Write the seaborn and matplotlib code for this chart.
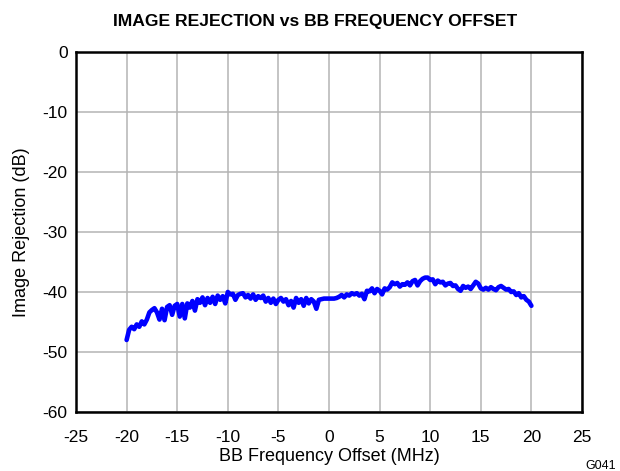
import matplotlib
matplotlib.use("Agg")
import matplotlib.pyplot as plt
import seaborn as sns
import pandas as pd
import numpy as np

# BB frequency offset (MHz), 0.25 MHz steps
freq_offset = list(np.round(np.arange(-20.0, 20.0001, 0.25), 2))

# Measured image rejection (dB)
image_rejection = [
    -48.0, -46.3, -45.8, -46.2, -45.4, -45.8, -44.9, -45.4,
    -44.6, -43.4, -43.0, -42.7, -43.4, -44.6, -42.8, -44.7,
    -42.5, -42.2, -43.8, -42.3, -42.0, -44.1, -42.0, -44.4,
    -41.9, -42.6, -41.5, -43.1, -41.2, -41.8, -40.9, -42.2,
    -41.0, -41.8, -40.8, -42.0, -40.6, -41.3, -40.7, -41.9,
    -40.0, -40.4, -40.3, -41.3, -40.5, -40.3, -40.2, -40.9,
    -40.5, -41.1, -40.4, -41.3, -40.7, -41.0, -40.6, -41.6,
    -41.0, -41.8, -41.1, -42.0, -41.3, -41.0, -41.6, -41.2,
    -42.2, -41.5, -42.6, -41.0, -41.8, -41.2, -42.3, -41.0,
    -41.9, -41.2, -41.6, -42.8, -41.3, -41.2, -41.1, -41.1,
    -41.1, -41.1, -41.1, -41.0, -40.8, -40.5, -40.9, -40.4,
    -40.6, -40.2, -40.4, -40.2, -40.6, -40.3, -41.2, -39.8,
    -39.9, -39.4, -40.2, -39.5, -39.8, -40.4, -39.4, -39.6,
    -39.2, -38.4, -38.7, -38.5, -39.1, -38.7, -38.8, -38.4,
    -38.9, -38.2, -38.0, -38.9, -38.2, -37.8, -37.6, -37.6,
    -38.0, -37.9, -38.7, -38.1, -38.4, -38.3, -38.9, -38.6,
    -38.5, -39.0, -38.9, -39.5, -39.8, -39.0, -39.3, -39.1,
    -39.5, -38.9, -38.3, -38.6, -39.4, -39.6, -39.3, -39.6,
    -39.2, -39.5, -39.7, -39.2, -39.0, -39.3, -39.6, -39.5,
    -40.0, -39.9, -40.5, -40.2, -40.9, -40.7, -41.3, -41.6,
    -42.3,
]

x_ticks = [-25, -20, -15, -10, -5, 0, 5, 10, 15, 20, 25]
y_ticks = [0, -10, -20, -30, -40, -50, -60]

title = "IMAGE REJECTION vs BB FREQUENCY OFFSET"
x_label = "BB Frequency Offset (MHz)"
y_label = "Image Rejection (dB)"
figure_id = "G041"

df = pd.DataFrame({"freq": freq_offset, "ir": image_rejection})

sns.set_style("white")
plt.rcParams["font.family"] = ["Liberation Sans", "DejaVu Sans"]
plt.rcParams["text.color"] = "black"
plt.rcParams["axes.labelcolor"] = "black"

fig = plt.figure(figsize=(6.2, 4.71), dpi=100)
ax = fig.add_axes([0.1226, 0.1253, 0.9387 - 0.1226, 0.8896 - 0.1253])

sns.lineplot(data=df, x="freq", y="ir", ax=ax, color="#0000ff",
             linewidth=3.3, solid_joinstyle="round", solid_capstyle="round")

ax.set_xlim(-25, 25)
ax.set_ylim(-60, 0)
ax.set_xticks(x_ticks)
ax.set_yticks(y_ticks)
ax.set_xticklabels([str(t) for t in x_ticks], fontsize=12.5)
ax.set_yticklabels([str(t) for t in y_ticks], fontsize=12.5)
ax.tick_params(axis="x", length=0, pad=13, colors="black")
ax.tick_params(axis="y", length=0, pad=6, colors="black")

ax.grid(True, color="#b4b4b4", linewidth=1.1)
ax.set_axisbelow(True)
for spine in ax.spines.values():
    spine.set_visible(True)
    spine.set_color("black")
    spine.set_linewidth(1.8)
    spine.set_zorder(5)

ax.set_xlabel(x_label, fontsize=13, labelpad=2)
ax.set_ylabel(y_label, fontsize=13, labelpad=9)
fig.text(0.508, 0.955, title, ha="center", va="center",
         fontsize=12.6, fontweight="bold")
fig.text(0.993, -0.002, figure_id, ha="right", va="bottom", fontsize=9)

fig.savefig("out.png", dpi=100)
